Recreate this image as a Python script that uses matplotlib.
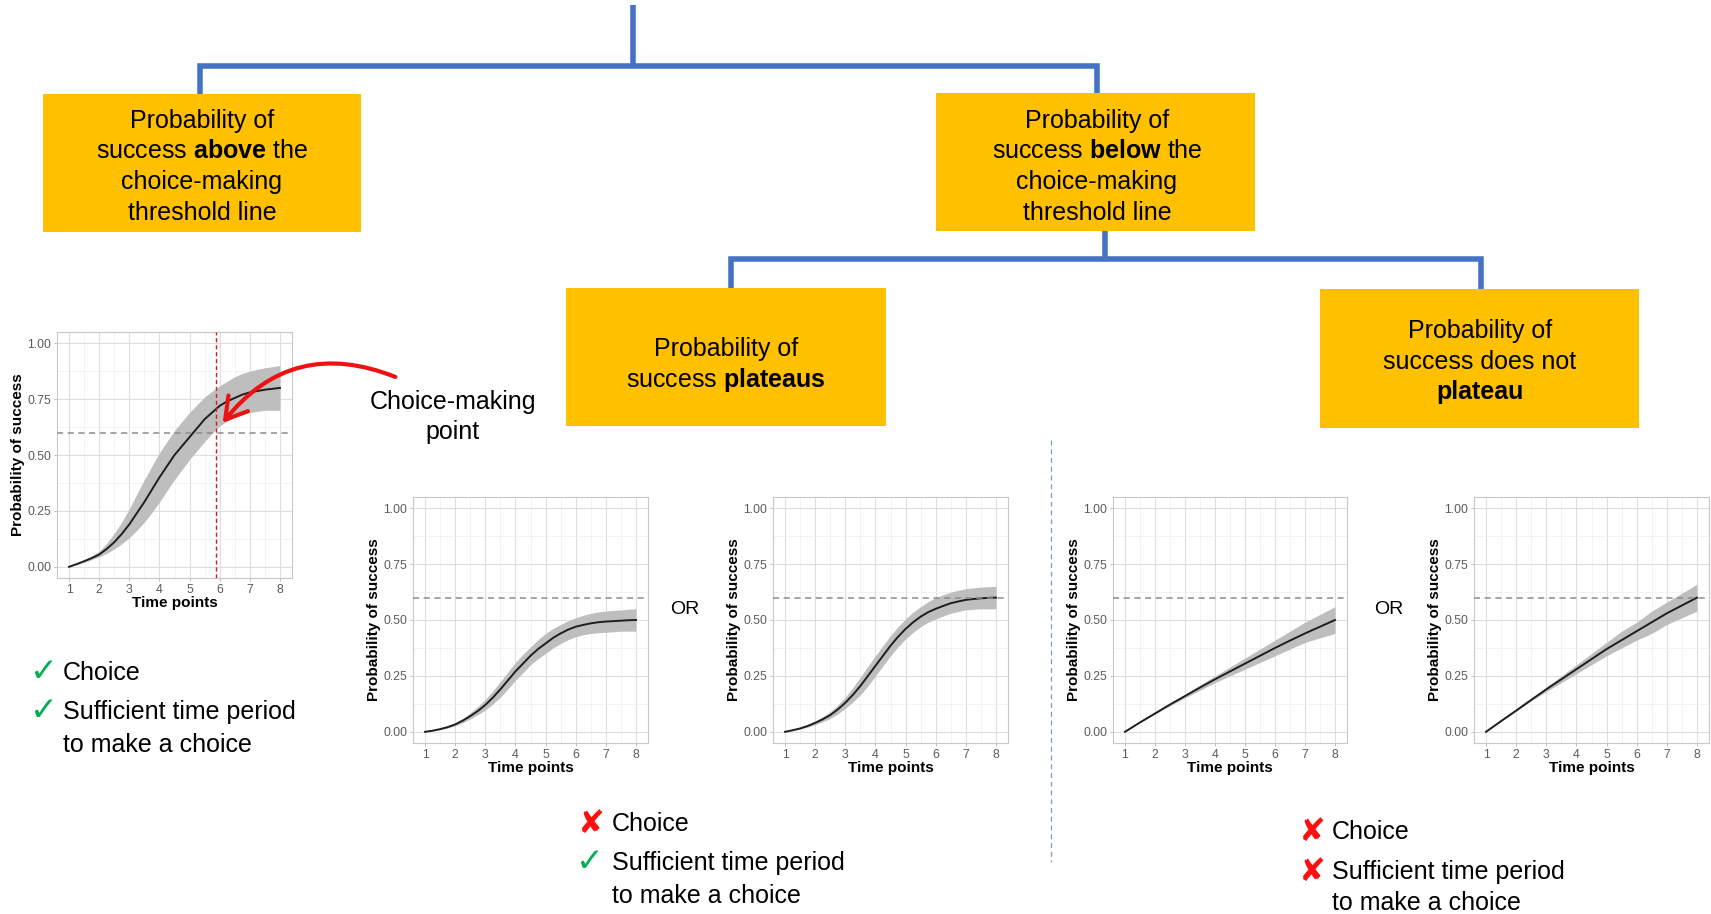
import numpy as np
import matplotlib.pyplot as plt
from matplotlib.patches import Rectangle, FancyArrowPatch

plt.rcParams['font.family'] = ['Liberation Sans', 'DejaVu Sans']
plt.rcParams['mathtext.fontset'] = 'custom'
plt.rcParams['mathtext.rm'] = 'Liberation Sans'
plt.rcParams['mathtext.bf'] = 'Liberation Sans:bold'

W, H = 1711, 914

threshold = 0.6
choice_point = 5.87

# s-shaped curves, read every quarter time point
time_fine = [1, 1.25, 1.5, 1.75, 2, 2.25, 2.5, 2.75, 3, 3.25, 3.5, 3.75, 4, 4.25, 4.5,
             4.75, 5, 5.25, 5.5, 5.75, 6, 6.25, 6.5, 6.75, 7, 7.25, 7.5, 7.75, 8]

above_mean = [0, 0.012, 0.025, 0.039, 0.055, 0.08, 0.11, 0.147, 0.19, 0.24, 0.29, 0.345, 0.40, 0.45, 0.50,
              0.54, 0.58, 0.62, 0.66, 0.69, 0.72, 0.74, 0.755, 0.77, 0.78, 0.786, 0.792, 0.796, 0.80]
above_upper = [0, 0.015, 0.03, 0.048, 0.07, 0.105, 0.15, 0.20, 0.26, 0.325, 0.39, 0.45, 0.51, 0.56, 0.61,
               0.65, 0.69, 0.725, 0.76, 0.785, 0.81, 0.83, 0.85, 0.865, 0.875, 0.883, 0.89, 0.895, 0.90]
above_lower = [0, 0.01, 0.02, 0.032, 0.045, 0.06, 0.08, 0.103, 0.13, 0.163, 0.20, 0.243, 0.29, 0.34, 0.39,
               0.435, 0.48, 0.52, 0.56, 0.597, 0.63, 0.652, 0.67, 0.682, 0.69, 0.695, 0.70, 0.70, 0.70]

plat_low_mean = [0, 0.005, 0.012, 0.021, 0.033, 0.05, 0.07, 0.093, 0.12, 0.153, 0.19, 0.23, 0.27, 0.305, 0.34,
                 0.37, 0.395, 0.42, 0.44, 0.457, 0.47, 0.478, 0.485, 0.49, 0.493, 0.495, 0.497, 0.499, 0.50]
plat_low_upper = [0, 0.007, 0.015, 0.026, 0.04, 0.06, 0.085, 0.113, 0.145, 0.183, 0.225, 0.268, 0.31, 0.347, 0.38,
                  0.412, 0.44, 0.462, 0.48, 0.497, 0.51, 0.521, 0.53, 0.536, 0.54, 0.543, 0.545, 0.548, 0.55]
plat_low_lower = [0, 0.004, 0.01, 0.017, 0.027, 0.04, 0.058, 0.076, 0.097, 0.124, 0.155, 0.192, 0.23, 0.265, 0.30,
                  0.327, 0.35, 0.375, 0.395, 0.412, 0.425, 0.434, 0.44, 0.443, 0.445, 0.447, 0.45, 0.45, 0.45]

plat_high_mean = [0, 0.007, 0.015, 0.026, 0.04, 0.056, 0.075, 0.10, 0.13, 0.165, 0.205, 0.25, 0.295, 0.34, 0.385,
                  0.425, 0.46, 0.49, 0.515, 0.535, 0.55, 0.563, 0.575, 0.583, 0.59, 0.594, 0.597, 0.599, 0.60]
plat_high_upper = [0, 0.008, 0.018, 0.032, 0.048, 0.068, 0.09, 0.12, 0.155, 0.198, 0.245, 0.293, 0.34, 0.386, 0.43,
                   0.47, 0.505, 0.535, 0.56, 0.582, 0.60, 0.613, 0.625, 0.633, 0.64, 0.644, 0.647, 0.649, 0.65]
plat_high_lower = [0, 0.005, 0.012, 0.021, 0.032, 0.045, 0.06, 0.08, 0.105, 0.133, 0.165, 0.205, 0.25, 0.295, 0.34,
                   0.38, 0.415, 0.445, 0.47, 0.49, 0.505, 0.518, 0.53, 0.538, 0.545, 0.548, 0.55, 0.55, 0.55]

# near-linear curves, read every half time point
time_half = [1, 1.5, 2, 2.5, 3, 3.5, 4, 4.5, 5, 5.5, 6, 6.5, 7, 7.5, 8]

lin_low_mean = [0, 0.042, 0.082, 0.122, 0.16, 0.198, 0.235, 0.27, 0.305, 0.34, 0.375, 0.408, 0.44, 0.47, 0.50]
lin_low_upper = [0, 0.043, 0.085, 0.127, 0.168, 0.21, 0.25, 0.29, 0.33, 0.37, 0.41, 0.45, 0.49, 0.525, 0.56]
lin_low_lower = [0, 0.041, 0.079, 0.117, 0.152, 0.186, 0.22, 0.25, 0.28, 0.31, 0.34, 0.37, 0.40, 0.42, 0.44]

lin_high_mean = [0, 0.048, 0.095, 0.143, 0.19, 0.235, 0.28, 0.325, 0.37, 0.41, 0.45, 0.49, 0.53, 0.565, 0.60]
lin_high_upper = [0, 0.049, 0.098, 0.148, 0.20, 0.25, 0.30, 0.35, 0.40, 0.45, 0.49, 0.54, 0.58, 0.62, 0.66]
lin_high_lower = [0, 0.047, 0.092, 0.138, 0.18, 0.22, 0.26, 0.30, 0.34, 0.375, 0.41, 0.44, 0.48, 0.51, 0.54]

y_ticks = [0, 0.25, 0.5, 0.75, 1.0]
y_ticklabels = ['0.00', '0.25', '0.50', '0.75', '1.00']

fig = plt.figure(figsize=(W / 100, H / 100), dpi=100)

# background layer in pixel units (y down)
bg = fig.add_axes([0, 0, 1, 1])
bg.set_xlim(0, W)
bg.set_ylim(H, 0)
bg.axis('off')

blue = '#4472C4'
gold = '#FFC000'
line_kw = dict(color=blue, lw=4, solid_joinstyle='miter', solid_capstyle='butt')

# tree connectors
bg.plot([633, 633], [5, 66], **line_kw)
bg.plot([200, 200, 1097, 1097], [94, 66, 66, 93], **line_kw)
bg.plot([1105, 1105], [231, 259], **line_kw)
bg.plot([731, 731, 1481, 1481], [288, 259, 259, 289], **line_kw)

# boxes
for x0, y0, x1, y1 in [(43, 94, 361, 232), (936, 93, 1255, 231),
                       (566, 288, 886, 426), (1320, 289, 1639, 428)]:
    bg.add_patch(Rectangle((x0, y0), x1 - x0, y1 - y0, fc=gold, ec='none'))


def put(x, y, s, size=18, **kw):
    # y is the visual middle of the line, placed via the baseline
    bg.text(x, y + size * 100 / 72 * 0.36, s, fontsize=size, ha=kw.pop('ha', 'center'),
            va='baseline', color=kw.pop('color', 'black'), **kw)


put(202, 119, 'Probability of')
put(202, 149.5, r'success $\mathbf{above}$ the')
put(202, 180, 'choice-making')
put(202, 210.5, 'threshold line')

put(1097, 119, 'Probability of')
put(1097, 149.5, r'success $\mathbf{below}$ the')
put(1097, 180, 'choice-making')
put(1097, 210.5, 'threshold line')

put(726, 347, 'Probability of')
put(726, 377.5, r'success $\mathbf{plateaus}$')

put(1480, 329, 'Probability of')
put(1480, 360, 'success does not')
put(1480, 390.5, 'plateau', fontweight='bold')

put(453, 400, 'Choice-making')
put(453, 430, 'point')

put(685, 607, 'OR', size=14)
put(1389, 607, 'OR', size=14)

# divider between the plateau / no plateau cases
bg.plot([1051, 1051], [440, 862], color='#7A9CCB', lw=0.9, ls=(0, (4, 3)))

tick = dict(color='#00B050', family='DejaVu Sans', size=24, fontweight='bold')
cross = dict(color='#FF1010', family='DejaVu Sans', size=23, fontweight='bold')

put(44, 669, '\u2713', **tick)
put(63, 671, 'Choice', ha='left')
put(44, 708, '\u2713', **tick)
put(63, 710, 'Sufficient time period', ha='left')
put(63, 743, 'to make a choice', ha='left')

put(590, 821, '\u2718', **cross)
put(612, 822, 'Choice', ha='left')
put(590, 859, '\u2713', **tick)
put(612, 861, 'Sufficient time period', ha='left')
put(612, 894, 'to make a choice', ha='left')

put(1311, 829, '\u2718', **cross)
put(1332, 830, 'Choice', ha='left')
put(1311, 869, '\u2718', **cross)
put(1332, 870, 'Sufficient time period', ha='left')
put(1332, 901, 'to make a choice', ha='left')


def curve_panel(left, top, right, bottom, t, mean, lower, upper):
    ax = fig.add_axes([left / W, 1 - bottom / H, (right - left) / W, (bottom - top) / H])
    ax.fill_between(t, lower, upper, color='#BEBEBE', lw=0, zorder=2)
    ax.plot(t, mean, color='#1E1E1E', lw=1.4, zorder=3)
    ax.axhline(threshold, color='#8C8C8C', lw=1.1, ls=(0, (4, 3)), zorder=4)
    ax.set_xlim(0.6, 8.4)
    ax.set_ylim(-0.05, 1.05)
    ax.set_xticks(range(1, 9))
    ax.set_yticks(y_ticks)
    ax.set_yticklabels(y_ticklabels)
    ax.set_xticks(np.arange(1.5, 8, 1), minor=True)
    ax.set_yticks([0.125, 0.375, 0.625, 0.875], minor=True)
    ax.grid(which='major', color='#DEDEDE', lw=0.8)
    ax.grid(which='minor', color='#EEEEEE', lw=0.5)
    ax.set_axisbelow(True)
    ax.tick_params(which='minor', length=0)
    ax.tick_params(which='major', length=2.5, width=0.6, color='#B3B3B3',
                   labelsize=8.8, labelcolor='#5A5A5A', pad=1.5)
    for sp in ax.spines.values():
        sp.set_color('#C8C8C8')
        sp.set_linewidth(0.8)
    ax.set_xlabel('Time points', fontsize=11, fontweight='bold', labelpad=0)
    ax.set_ylabel('Probability of success', fontsize=11, fontweight='bold', labelpad=2)
    return ax


ax0 = curve_panel(57, 332, 292, 578, time_fine, above_mean, above_lower, above_upper)
ax0.axvline(choice_point, color='#CC1F1F', lw=1.0, ls=(0, (3, 2)), zorder=5)

curve_panel(413, 497, 648, 743, time_fine, plat_low_mean, plat_low_lower, plat_low_upper)
curve_panel(773, 497, 1008, 743, time_fine, plat_high_mean, plat_high_lower, plat_high_upper)
curve_panel(1113, 497, 1347, 743, time_half, lin_low_mean, lin_low_lower, lin_low_upper)
curve_panel(1474, 497, 1709, 743, time_half, lin_high_mean, lin_high_lower, lin_high_upper)

# arrow pointing at the choice-making point
top = fig.add_axes([0, 0, 1, 1], zorder=10)
top.set_xlim(0, W)
top.set_ylim(H, 0)
top.axis('off')
top.patch.set_alpha(0)
top.add_patch(FancyArrowPatch((398, 378), (221, 425), connectionstyle='arc3,rad=0.38',
                              arrowstyle='->,head_length=0.75,head_width=0.45',
                              mutation_scale=20, color='#EE1111', lw=3))

fig.savefig('out.png', dpi=100)
